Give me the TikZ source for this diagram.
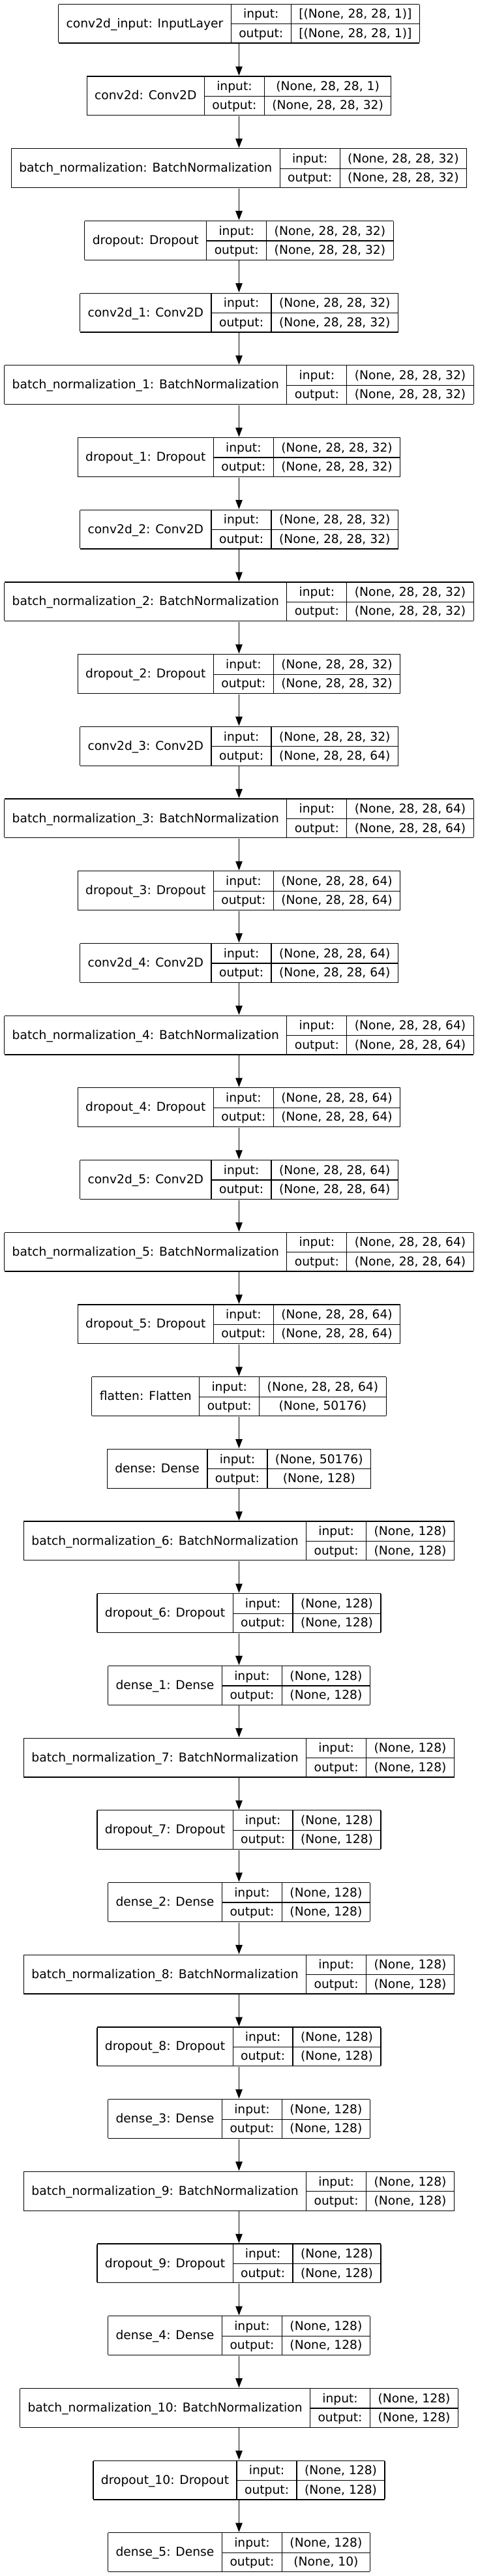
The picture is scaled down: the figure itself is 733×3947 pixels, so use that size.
\documentclass[tikz,border=0pt]{standalone}
\usepackage{fontspec}
\setmainfont{DejaVu Sans}
\usetikzlibrary{arrows.meta}

\setlength{\tabcolsep}{12pt}
\setlength{\arrayrulewidth}{1.2pt}
\newcommand{\rowstrut}{\rule[-8.2pt]{0pt}{29.3pt}}
\newcommand{\layerbox}[3]{%
  \begin{tabular}{|c|c|c|}\hline
  \raisebox{-14.3pt}[0pt][0pt]{#1} & input: & #2\rowstrut\\ \cline{2-3}
   & output: & #3\rowstrut\\ \hline
  \end{tabular}}

\begin{document}
\begin{tikzpicture}[x=1pt,y=1pt,>={Triangle[length=14pt,width=10.5pt]},node distance=110.7pt,
  line width=1.2pt,layer/.style={inner sep=0pt,font=\fontsize{18.7}{22}\selectfont}]

  \useasboundingbox (0,0) rectangle (733,-3947);

  \node[layer] (in) at (366.5,-36.2) {\layerbox{conv2d\_input: InputLayer}{[(None, 28, 28, 1)]}{[(None, 28, 28, 1)]}};
  \node[layer] (c0) [below of=in] {\layerbox{conv2d: Conv2D}{(None, 28, 28, 1)}{(None, 28, 28, 32)}};
  \node[layer] (b0) [below of=c0] {\layerbox{batch\_normalization: BatchNormalization}{(None, 28, 28, 32)}{(None, 28, 28, 32)}};
  \node[layer] (d0) [below of=b0] {\layerbox{dropout: Dropout}{(None, 28, 28, 32)}{(None, 28, 28, 32)}};
  \node[layer] (c1) [below of=d0] {\layerbox{conv2d\_1: Conv2D}{(None, 28, 28, 32)}{(None, 28, 28, 32)}};
  \node[layer] (b1) [below of=c1] {\layerbox{batch\_normalization\_1: BatchNormalization}{(None, 28, 28, 32)}{(None, 28, 28, 32)}};
  \node[layer] (d1) [below of=b1] {\layerbox{dropout\_1: Dropout}{(None, 28, 28, 32)}{(None, 28, 28, 32)}};
  \node[layer] (c2) [below of=d1] {\layerbox{conv2d\_2: Conv2D}{(None, 28, 28, 32)}{(None, 28, 28, 32)}};
  \node[layer] (b2) [below of=c2] {\layerbox{batch\_normalization\_2: BatchNormalization}{(None, 28, 28, 32)}{(None, 28, 28, 32)}};
  \node[layer] (d2) [below of=b2] {\layerbox{dropout\_2: Dropout}{(None, 28, 28, 32)}{(None, 28, 28, 32)}};
  \node[layer] (c3) [below of=d2] {\layerbox{conv2d\_3: Conv2D}{(None, 28, 28, 32)}{(None, 28, 28, 64)}};
  \node[layer] (b3) [below of=c3] {\layerbox{batch\_normalization\_3: BatchNormalization}{(None, 28, 28, 64)}{(None, 28, 28, 64)}};
  \node[layer] (d3) [below of=b3] {\layerbox{dropout\_3: Dropout}{(None, 28, 28, 64)}{(None, 28, 28, 64)}};
  \node[layer] (c4) [below of=d3] {\layerbox{conv2d\_4: Conv2D}{(None, 28, 28, 64)}{(None, 28, 28, 64)}};
  \node[layer] (b4) [below of=c4] {\layerbox{batch\_normalization\_4: BatchNormalization}{(None, 28, 28, 64)}{(None, 28, 28, 64)}};
  \node[layer] (d4) [below of=b4] {\layerbox{dropout\_4: Dropout}{(None, 28, 28, 64)}{(None, 28, 28, 64)}};
  \node[layer] (c5) [below of=d4] {\layerbox{conv2d\_5: Conv2D}{(None, 28, 28, 64)}{(None, 28, 28, 64)}};
  \node[layer] (b5) [below of=c5] {\layerbox{batch\_normalization\_5: BatchNormalization}{(None, 28, 28, 64)}{(None, 28, 28, 64)}};
  \node[layer] (d5) [below of=b5] {\layerbox{dropout\_5: Dropout}{(None, 28, 28, 64)}{(None, 28, 28, 64)}};
  \node[layer] (fl) [below of=d5] {\layerbox{flatten: Flatten}{(None, 28, 28, 64)}{(None, 50176)}};
  \node[layer] (f0) [below of=fl] {\layerbox{dense: Dense}{(None, 50176)}{(None, 128)}};
  \node[layer] (b6) [below of=f0] {\layerbox{batch\_normalization\_6: BatchNormalization}{(None, 128)}{(None, 128)}};
  \node[layer] (d6) [below of=b6] {\layerbox{dropout\_6: Dropout}{(None, 128)}{(None, 128)}};
  \node[layer] (f1) [below of=d6] {\layerbox{dense\_1: Dense}{(None, 128)}{(None, 128)}};
  \node[layer] (b7) [below of=f1] {\layerbox{batch\_normalization\_7: BatchNormalization}{(None, 128)}{(None, 128)}};
  \node[layer] (d7) [below of=b7] {\layerbox{dropout\_7: Dropout}{(None, 128)}{(None, 128)}};
  \node[layer] (f2) [below of=d7] {\layerbox{dense\_2: Dense}{(None, 128)}{(None, 128)}};
  \node[layer] (b8) [below of=f2] {\layerbox{batch\_normalization\_8: BatchNormalization}{(None, 128)}{(None, 128)}};
  \node[layer] (d8) [below of=b8] {\layerbox{dropout\_8: Dropout}{(None, 128)}{(None, 128)}};
  \node[layer] (f3) [below of=d8] {\layerbox{dense\_3: Dense}{(None, 128)}{(None, 128)}};
  \node[layer] (b9) [below of=f3] {\layerbox{batch\_normalization\_9: BatchNormalization}{(None, 128)}{(None, 128)}};
  \node[layer] (d9) [below of=b9] {\layerbox{dropout\_9: Dropout}{(None, 128)}{(None, 128)}};
  \node[layer] (f4) [below of=d9] {\layerbox{dense\_4: Dense}{(None, 128)}{(None, 128)}};
  \node[layer] (b10) [below of=f4] {\layerbox{batch\_normalization\_10: BatchNormalization}{(None, 128)}{(None, 128)}};
  \node[layer] (d10) [below of=b10] {\layerbox{dropout\_10: Dropout}{(None, 128)}{(None, 128)}};
  \node[layer] (f5) [below of=d10] {\layerbox{dense\_5: Dense}{(None, 128)}{(None, 10)}};

  \path[->]
    (in) edge (c0)
    (c0) edge (b0)
    (b0) edge (d0)
    (d0) edge (c1)
    (c1) edge (b1)
    (b1) edge (d1)
    (d1) edge (c2)
    (c2) edge (b2)
    (b2) edge (d2)
    (d2) edge (c3)
    (c3) edge (b3)
    (b3) edge (d3)
    (d3) edge (c4)
    (c4) edge (b4)
    (b4) edge (d4)
    (d4) edge (c5)
    (c5) edge (b5)
    (b5) edge (d5)
    (d5) edge (fl)
    (fl) edge (f0)
    (f0) edge (b6)
    (b6) edge (d6)
    (d6) edge (f1)
    (f1) edge (b7)
    (b7) edge (d7)
    (d7) edge (f2)
    (f2) edge (b8)
    (b8) edge (d8)
    (d8) edge (f3)
    (f3) edge (b9)
    (b9) edge (d9)
    (d9) edge (f4)
    (f4) edge (b10)
    (b10) edge (d10)
    (d10) edge (f5);
\end{tikzpicture}
\end{document}
